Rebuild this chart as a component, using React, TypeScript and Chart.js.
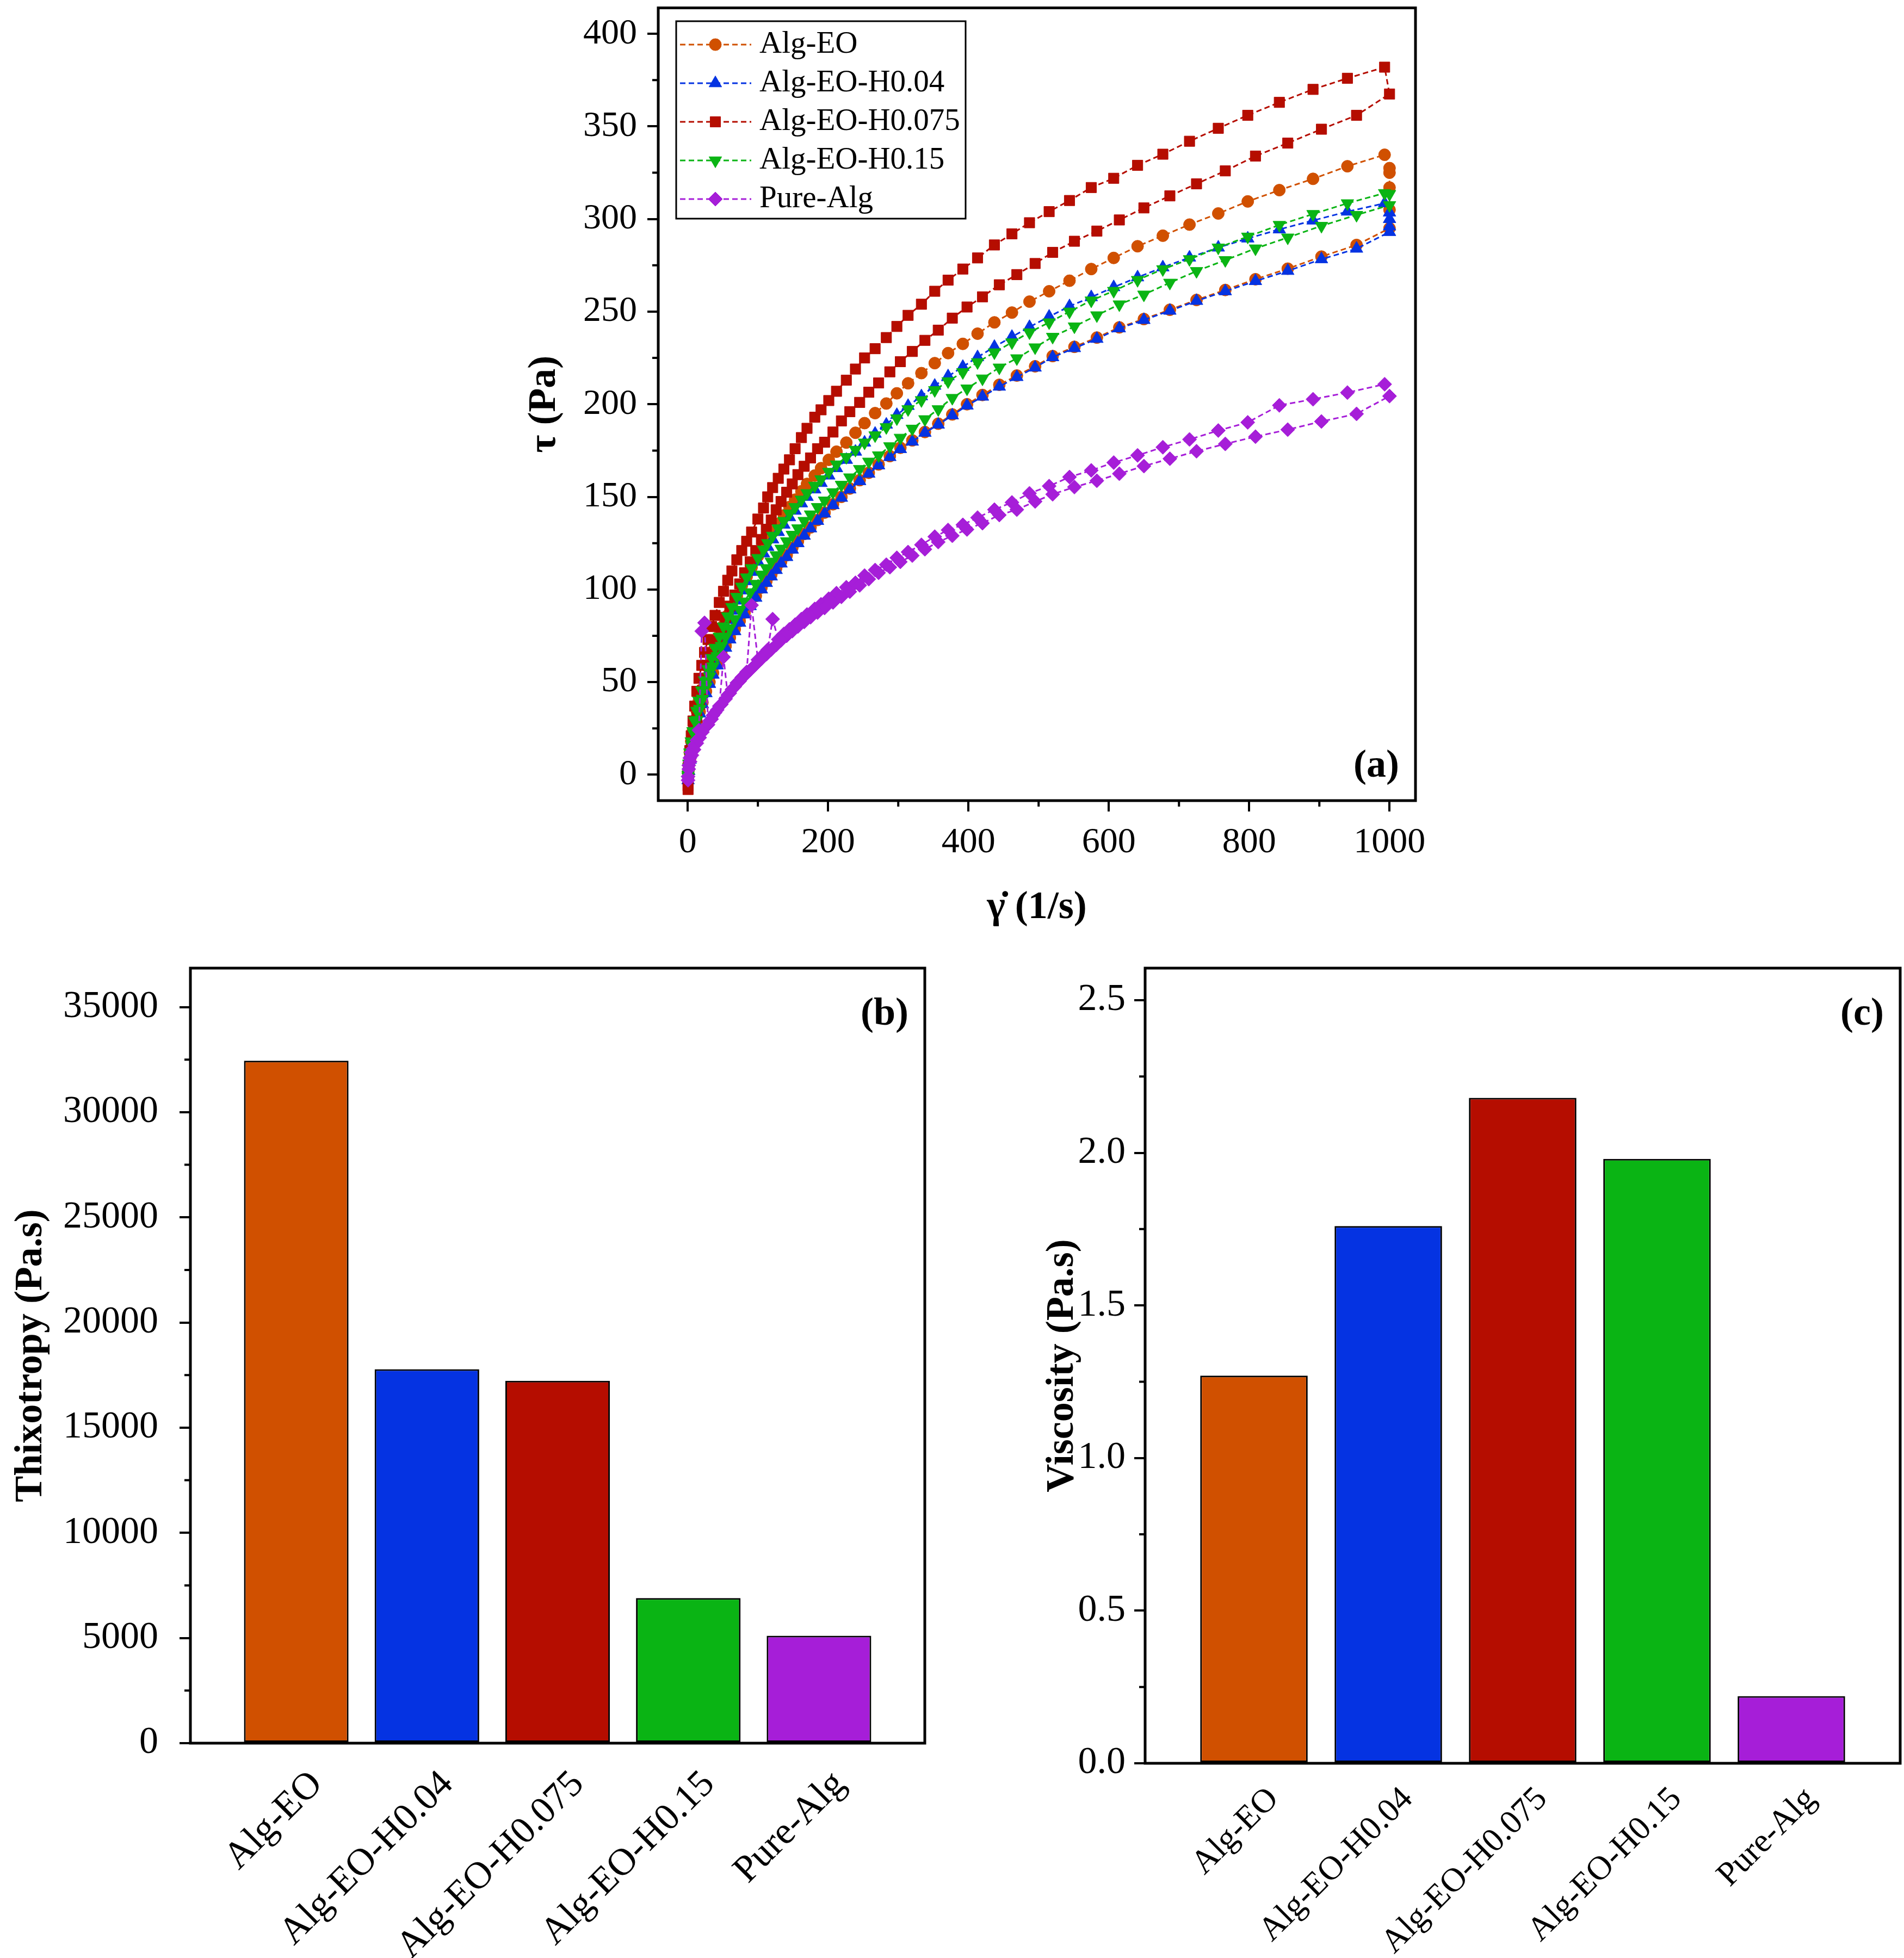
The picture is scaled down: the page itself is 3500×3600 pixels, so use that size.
import React, { useEffect, useRef } from "react";
import { Chart, registerables } from "chart.js";
import { drawPoint } from "chart.js/helpers";

Chart.register(...registerables);

const SERIF = "'Liberation Serif', 'Times New Roman', Times, serif";
Chart.defaults.font.family = SERIF;
Chart.defaults.color = "#000";

// ---------- shared ----------
const SAMPLES = ["Alg-EO", "Alg-EO-H0.04", "Alg-EO-H0.075", "Alg-EO-H0.15", "Pure-Alg"];
const COLORS = ["#D05000", "#0533E2", "#B50D00", "#0AB414", "#A61ED8"];

// ---------- panel (a): shear stress vs shear rate (hysteresis loops) ----------
const SHEAR_UP = [
  0.5, 1.5, 3, 5, 7.5, 10, 13, 16, 20, 24,
  29, 34, 39, 45, 51, 57, 63, 70, 77, 84,
  91, 100, 108, 114, 121, 129, 137, 145, 153, 162,
  170, 181, 190, 201, 212, 226, 239, 252, 267, 283,
  298, 314, 333, 352, 371, 392, 413, 437, 462, 487,
  515, 544, 575, 607, 641, 677, 715, 756, 798, 843,
  891, 940, 993,
];
const SHEAR_HOLD = 1000;
const SHEAR_DOWN = [
  1000, 953, 903, 855, 809, 766, 725, 687, 650, 615,
  583, 551, 520, 495, 469, 444, 420, 398, 377, 357,
  338, 320, 303, 288, 272, 258, 245, 231, 219, 207,
  195, 185, 175, 166, 157, 149, 141, 133, 126, 119,
  112, 105, 97, 89, 81, 74, 67, 60, 54, 48,
  42, 36, 31, 26, 21, 17, 13, 9, 6, 3.5,
  1.5, 0.5,
];

const ALG_EO_UP = [
  1, 6, 12, 18, 24, 29, 34.5, 40, 46, 52,
  58, 63.5, 69, 75, 80.5, 86, 91, 96.5, 102, 107,
  112, 118, 123, 127, 131, 135.5, 140, 144.5, 148.5, 153,
  157, 161.5, 165.5, 170, 174.4, 179.3, 184.6, 189.8, 195.2, 200.4,
  205.9, 211.3, 216.8, 222.2, 227.6, 232.6, 238.1, 244.2, 249.5, 255.4,
  261, 266.7, 273, 279, 285.3, 291, 297, 303, 309.5, 315.6,
  321.7, 328.5, 334.7,
];
const ALG_EO_HOLD = [327.5, 325, 317, 305];
const ALG_EO_DOWN = [
  295, 286, 279.7, 273.2, 267.5, 261.7, 256.3, 251, 246, 241.5,
  236, 231, 226, 220.5, 215.5, 210.5, 205, 200, 194.5, 189.5,
  185, 180.5, 176.5, 172, 167.5, 163, 159, 154.5, 150, 146,
  141.5, 137.5, 133.5, 130, 126, 122.5, 118.5, 115, 111.5, 108,
  104.5, 101, 96.5, 92, 87.5, 83, 78.5, 74, 69.5, 65,
  60, 55, 50, 45, 39, 34, 28, 21, 15, 9,
  3, -1,
];

const H004_UP = [
  -1, 5, 11, 17, 22.5, 27.5, 33, 38, 43.5, 49,
  55, 61, 66.5, 72.5, 78, 83.5, 88.5, 94, 99.5, 104.5,
  109.5, 115, 119.5, 123, 127, 131, 135, 139, 142.5, 146.5,
  150, 154, 157.5, 161.5, 165.5, 170, 174.4, 179.3, 184.1, 189,
  194.2, 199.1, 204.3, 210, 215.1, 220.2, 225.4, 231, 236.4, 241.7,
  247.3, 252.9, 257.8, 263.2, 268.5, 273.9, 279.2, 284.6, 289.5, 294.4,
  299.2, 304, 308.5,
];
const H004_HOLD = [303.5, 300, 296];
const H004_DOWN = [
  293, 284, 278.3, 272, 266.5, 261, 255.8, 250.5, 245.5, 241,
  235.3, 230.3, 225.4, 219.8, 214.7, 209.5, 204.1, 199.3, 194, 189,
  184.6, 179.8, 175.8, 171.5, 167, 162.5, 158.5, 154, 149.5, 145.5,
  141, 137, 133, 129, 125, 121.5, 117.5, 114, 110.5, 107,
  103.5, 100, 95.5, 91, 86.5, 82, 77.5, 73, 68.5, 64,
  59, 54, 49, 44, 38, 33, 27, 20, 14, 8,
  2, -3,
];

const H0075_UP = [
  -6, 5, 13, 21, 29, 37, 45, 52, 59, 66,
  73, 80, 86, 93, 99, 105, 110, 116, 121, 126,
  131, 138, 144, 150, 155, 160, 165, 170, 176, 182,
  187, 193, 197, 202, 207, 213, 219, 225, 230, 236,
  242, 248, 254, 261, 267, 273, 279, 286, 292, 298,
  304, 310, 317, 322, 329, 335, 342, 349, 356, 363,
  370, 376, 382,
];
const H0075_HOLD: number[] = [];
const H0075_DOWN = [
  367.5, 356, 348.5, 341, 334, 326, 319, 312.5, 306, 299.5,
  293.5, 288, 282, 276, 270, 264.5, 258, 252.5, 246.5, 240,
  234.5, 228.5, 223, 217.5, 211.5, 206.5, 201, 196, 191, 185,
  179.5, 176, 171, 166.5, 162, 157, 152.5, 147.5, 143, 137.5,
  132.5, 127, 121, 115, 109, 103, 97, 91, 85, 79,
  72, 65, 59, 52, 45, 38, 31, 23, 16, 9,
  1, -8,
];

const H015_UP = [
  0, 6, 12, 18, 23.5, 29, 34.5, 40, 45.5, 51,
  57, 63, 68.5, 74.5, 80, 85.5, 90.5, 96, 101.5, 106.5,
  111.5, 117, 121.5, 125, 129, 133, 137, 141, 144.5, 148.5,
  152, 156, 159.5, 163.5, 167.5, 171.5, 175.4, 179.3, 183.2, 187.6,
  192.4, 197.3, 202.2, 207.6, 212.4, 217.3, 222.7, 228, 233.4, 238.8,
  244.2, 250, 256, 261.2, 267.1, 272.9, 278.3, 284.6, 290.5, 296.8,
  302.7, 308.5, 314,
];
const H015_HOLD = [313.5];
const H015_DOWN = [
  307.5, 302.2, 296.3, 290, 284.1, 277.8, 271.9, 265.6, 259.2, 253.9,
  248, 242, 236.4, 230.7, 224.8, 219.8, 213.9, 208.5, 203.4, 197.3,
  191.9, 186.8, 181.9, 177.3, 172.4, 169, 165, 160.5, 156.5, 152.5,
  148, 144.5, 140.5, 137, 133, 129.5, 126, 122, 118.5, 115,
  111.5, 108, 103, 98.5, 93.5, 89, 84, 79, 74.5, 69.5,
  64, 58.5, 53, 47.5, 41, 35.5, 29.5, 22, 16, 10,
  4, -1,
];

const PURE_UP = [
  -3, 5, 9, 12, 14, 16, 18.5, 24, 77.5, 82,
  27, 30, 33.5, 37, 63.5, 43, 46, 49.5, 52.5, 55.5,
  91.5, 62, 65, 67.5, 84, 73, 76, 78.5, 81, 84,
  86.5, 89.5, 92, 95, 98, 101.2, 103.6, 107.5, 110.5, 113.4,
  117.1, 120.2, 124.1, 128.5, 132.1, 134.9, 138.8, 143.1, 147, 151.9,
  155.8, 160.7, 164.3, 168.5, 172.4, 176.8, 181, 185.8, 190.2, 199.4,
  202.7, 206.3, 210.8,
];
const PURE_HOLD: number[] = [];
const PURE_DOWN = [
  204.4, 194.8, 190.7, 186.3, 182.5, 178.6, 174.6, 170.6, 166.6, 162.5,
  158.7, 155.3, 151.4, 147.5, 143.1, 140.2, 135.8, 132.4, 129, 125.6,
  121.7, 118.3, 114.9, 112, 109, 105.6, 102.2, 98.8, 96, 93,
  90, 87.5, 85, 82.5, 80, 77.5, 75, 72.5, 70, 67.5,
  65, 62.5, 59.5, 56.5, 53.5, 50.5, 47.5, 44, 41, 38,
  35, 32, 29, 26, 23, 20, 17, 13.5, 10.5, 7,
  3, -1,
];

const X_TICKS_A = [0, 200, 400, 600, 800, 1000];
const X_MINOR_A = [100, 300, 500, 700, 900];
const Y_TICKS_A = [0, 50, 100, 150, 200, 250, 300, 350, 400];
const Y_MINOR_A = [25, 75, 125, 175, 225, 275, 325, 375];

// ---------- panel (b): thixotropy ----------
const THIXOTROPY = [32450, 17780, 17230, 6900, 5110];
const Y_TICKS_B = [0, 5000, 10000, 15000, 20000, 25000, 30000, 35000];
const Y_MINOR_B = [2500, 7500, 12500, 17500, 22500, 27500, 32500];

// ---------- panel (c): viscosity ----------
const VISCOSITY = [1.27, 1.76, 2.18, 1.98, 0.22];
const Y_TICKS_C = [0, 0.5, 1.0, 1.5, 2.0, 2.5];
const Y_MINOR_C = [0.25, 0.75, 1.25, 1.75, 2.25];

// ---------- styling ----------
const MARKERS = [
  { style: "circle", radius: 11, rotation: 0 },
  { style: "triangle", radius: 13.5, rotation: 0 },
  { style: "rect", radius: 13.5, rotation: 0 },
  { style: "triangle", radius: 13.5, rotation: 180 },
  { style: "rectRot", radius: 13, rotation: 0 },
];
const DRAW_ORDER = [5, 4, 3, 2, 1];
const DASH = [10, 6];

function buildLoop(up: number[], hold: number[], down: number[]) {
  return [
    ...SHEAR_UP.map((x, i) => ({ x, y: up[i] })),
    ...hold.map((y) => ({ x: SHEAR_HOLD, y })),
    ...SHEAR_DOWN.map((x, i) => ({ x, y: down[i] })),
  ];
}

const decorPlugin = {
  id: "decor",
  afterDraw(chart: any, _args: any, opts: any) {
    const ctx = chart.ctx;
    const { left, right, top, bottom } = chart.chartArea;
    ctx.save();
    ctx.setLineDash([]);
    ctx.strokeStyle = "#000";
    ctx.lineWidth = 5;
    ctx.strokeRect(left, top, right - left, bottom - top);
    ctx.lineWidth = 4;
    ctx.beginPath();
    for (const v of opts.xMinor || []) {
      const p = chart.scales.x.getPixelForValue(v);
      ctx.moveTo(p, bottom);
      ctx.lineTo(p, bottom + 11);
    }
    for (const v of opts.yMinor || []) {
      const p = chart.scales.y.getPixelForValue(v);
      ctx.moveTo(left, p);
      ctx.lineTo(left - 11, p);
    }
    ctx.stroke();

    ctx.fillStyle = "#000";
    ctx.font = `bold 72px ${SERIF}`;
    ctx.textAlign = "right";
    ctx.textBaseline = "middle";
    const ly = opts.labelAtBottom ? bottom - 63 : top + 85;
    ctx.fillText(opts.label, right - 30, ly);

    const L = opts.legend;
    if (L) {
      ctx.lineWidth = 3;
      ctx.strokeStyle = "#000";
      ctx.strokeRect(L.x, L.y, L.w, L.h);
      chart.data.datasets.forEach((ds: any, i: number) => {
        const y = L.rowY0 + i * L.rowStep;
        ctx.strokeStyle = ds.borderColor;
        ctx.lineWidth = 3;
        ctx.setLineDash(DASH);
        ctx.beginPath();
        ctx.moveTo(L.lineX0, y);
        ctx.lineTo(L.lineX1, y);
        ctx.stroke();
        ctx.setLineDash([]);
        ctx.fillStyle = ds.pointBackgroundColor;
        ctx.strokeStyle = ds.pointBorderColor;
        ctx.lineWidth = 1;
        drawPoint(
          ctx,
          { pointStyle: ds.pointStyle, radius: ds.pointRadius, rotation: ds.pointRotation, borderWidth: 1 } as any,
          L.markerX,
          y
        );
        ctx.fillStyle = "#000";
        ctx.font = `57px ${SERIF}`;
        ctx.textAlign = "left";
        ctx.textBaseline = "middle";
        ctx.fillText(ds.label, L.textX, y);
      });
    }
    ctx.restore();
  },
};

const tickGrid = { display: true, drawOnChartArea: false, drawTicks: true, tickLength: 20, lineWidth: 4, color: "#000" };

function fixY(width: number) {
  return (s: any) => {
    s.width = width;
    s.paddingTop = 0;
    s.paddingBottom = 0;
  };
}
function fixX(height: number) {
  return (s: any) => {
    s.height = height;
    s.paddingLeft = 0;
    s.paddingRight = 0;
  };
}

function configA(): any {
  const loops = [
    [ALG_EO_UP, ALG_EO_HOLD, ALG_EO_DOWN],
    [H004_UP, H004_HOLD, H004_DOWN],
    [H0075_UP, H0075_HOLD, H0075_DOWN],
    [H015_UP, H015_HOLD, H015_DOWN],
    [PURE_UP, PURE_HOLD, PURE_DOWN],
  ];
  const datasets = SAMPLES.map((name, i) => ({
    label: name,
    data: buildLoop(loops[i][0], loops[i][1], loops[i][2]),
    showLine: true,
    borderColor: COLORS[i],
    backgroundColor: COLORS[i],
    borderWidth: 3,
    borderDash: DASH,
    pointBackgroundColor: COLORS[i],
    pointBorderColor: COLORS[i],
    pointBorderWidth: 1,
    pointStyle: MARKERS[i].style,
    pointRadius: MARKERS[i].radius,
    pointRotation: MARKERS[i].rotation,
    pointHoverRadius: MARKERS[i].radius,
    order: DRAW_ORDER[i],
    tension: 0,
  }));
  return {
    type: "scatter",
    data: { datasets },
    options: {
      responsive: false,
      animation: false,
      devicePixelRatio: 1,
      events: [],
      layout: { padding: { left: 0, right: 98, top: 11, bottom: 0 } },
      plugins: {
        legend: { display: false },
        tooltip: { enabled: false },
        decor: {
          label: "(a)",
          labelAtBottom: true,
          xMinor: X_MINOR_A,
          yMinor: Y_MINOR_A,
          legend: { x: 343, y: 39, w: 532, h: 363, rowY0: 82, rowStep: 71, lineX0: 350, lineX1: 481, markerX: 415, textX: 496 },
        },
      },
      scales: {
        x: {
          type: "linear",
          min: -42,
          max: 1037,
          afterBuildTicks: (s: any) => { s.ticks = X_TICKS_A.map((value) => ({ value })); },
          afterFit: fixX(288),
          grid: tickGrid,
          border: { display: false },
          ticks: { font: { family: SERIF, size: 66 }, color: "#000", padding: 18, maxRotation: 0, autoSkip: false, callback: (v: any) => String(v) },
          title: { display: true, text: "\u03B3\u0307 (1/s)", color: "#000", font: { family: SERIF, size: 72, weight: "bold" }, padding: { top: 0, bottom: 47 } },
        },
        y: {
          type: "linear",
          min: -14,
          max: 414,
          afterBuildTicks: (s: any) => { s.ticks = Y_TICKS_A.map((value) => ({ value })); },
          afterFit: fixY(310),
          grid: tickGrid,
          border: { display: false },
          ticks: { font: { family: SERIF, size: 66 }, color: "#000", padding: 19, autoSkip: false, callback: (v: any) => String(v) },
          title: { display: true, text: "\u03C4 (Pa)", color: "#000", font: { family: SERIF, size: 72, weight: "bold" }, padding: { top: 58, bottom: 0 } },
        },
      },
    },
    plugins: [decorPlugin],
  };
}

function barConfig(p: {
  values: number[];
  yMax: number;
  yTicks: number[];
  yMinor: number[];
  fmt: (v: number) => string;
  title: string;
  titlePad: number;
  label: string;
  yWidth: number;
  yTickPad: number;
  xHeight: number;
  xFont: number;
  xPad: number;
  padRight: number;
  labelOffset: number;
}): any {
  return {
    type: "bar",
    data: {
      datasets: [
        {
          data: p.values.map((y, i) => ({ x: i, y })),
          backgroundColor: COLORS,
          borderColor: "#000",
          borderWidth: 3,
          borderSkipped: false,
          barPercentage: 0.8,
          categoryPercentage: 1,
        },
      ],
    },
    options: {
      responsive: false,
      animation: false,
      devicePixelRatio: 1,
      events: [],
      layout: { padding: { left: 0, right: p.padRight, top: 20, bottom: 0 } },
      plugins: {
        legend: { display: false },
        tooltip: { enabled: false },
        decor: { label: p.label, labelAtBottom: false, yMinor: p.yMinor },
      },
      scales: {
        x: {
          type: "linear",
          min: -0.81,
          max: 4.81,
          offset: false,
          afterBuildTicks: (s: any) => { s.ticks = SAMPLES.map((_, i) => ({ value: i })); },
          afterFit: fixX(p.xHeight),
          grid: { display: false, drawTicks: false, offset: false },
          border: { display: false },
          ticks: {
            font: { family: SERIF, size: p.xFont },
            color: "#000",
            padding: p.xPad,
            minRotation: 45,
            maxRotation: 45,
            autoSkip: false,
            labelOffset: p.labelOffset,
            callback: (v: any) => SAMPLES[Math.round(v)] ?? "",
          },
        },
        y: {
          type: "linear",
          min: 0,
          max: p.yMax,
          afterBuildTicks: (s: any) => { s.ticks = p.yTicks.map((value) => ({ value })); },
          afterFit: fixY(p.yWidth),
          grid: tickGrid,
          border: { display: false },
          ticks: { font: { family: SERIF, size: 70 }, color: "#000", padding: p.yTickPad, autoSkip: false, callback: (v: any) => p.fmt(Number(v)) },
          title: { display: true, text: p.title, color: "#000", font: { family: SERIF, size: 72, weight: "bold" }, padding: { top: p.titlePad, bottom: 0 } },
        },
      },
    },
    plugins: [decorPlugin],
  };
}

function ChartBox(props: { left: number; top: number; width: number; height: number; make: () => any }) {
  const ref = useRef<HTMLCanvasElement>(null);
  useEffect(() => {
    const chart = new Chart(ref.current as HTMLCanvasElement, props.make());
    return () => chart.destroy();
  }, []);
  return (
    <canvas
      ref={ref}
      width={props.width}
      height={props.height}
      style={{ position: "absolute", left: props.left, top: props.top, width: props.width, height: props.height }}
    />
  );
}

export default function App() {
  return (
    <div style={{ position: "absolute", left: 0, top: 0, width: 3500, height: 3600, background: "#fff", overflow: "hidden" }}>
      <ChartBox left={900} top={0} width={1800} height={1760} make={configA} />
      <ChartBox
        left={0}
        top={1760}
        width={1760}
        height={1840}
        make={() =>
          barConfig({
            values: THIXOTROPY,
            yMax: 36850,
            yTicks: Y_TICKS_B,
            yMinor: Y_MINOR_B,
            fmt: (v) => String(v),
            title: "Thixotropy (Pa.s)",
            titlePad: 14,
            label: "(b)",
            yWidth: 350,
            yTickPad: 39,
            xHeight: 395,
            xFont: 70,
            xPad: 35,
            padRight: 60,
            labelOffset: 38,
          })
        }
      />
      <ChartBox
        left={1760}
        top={1760}
        width={1740}
        height={1840}
        make={() =>
          barConfig({
            values: VISCOSITY,
            yMax: 2.605,
            yTicks: Y_TICKS_C,
            yMinor: Y_MINOR_C,
            fmt: (v) => v.toFixed(1),
            title: "Viscosity (Pa.s)",
            titlePad: 150,
            label: "(c)",
            yWidth: 345,
            yTickPad: 16,
            xHeight: 358,
            xFont: 62,
            xPad: 30,
            padRight: 7,
            labelOffset: 36,
          })
        }
      />
    </div>
  );
}
